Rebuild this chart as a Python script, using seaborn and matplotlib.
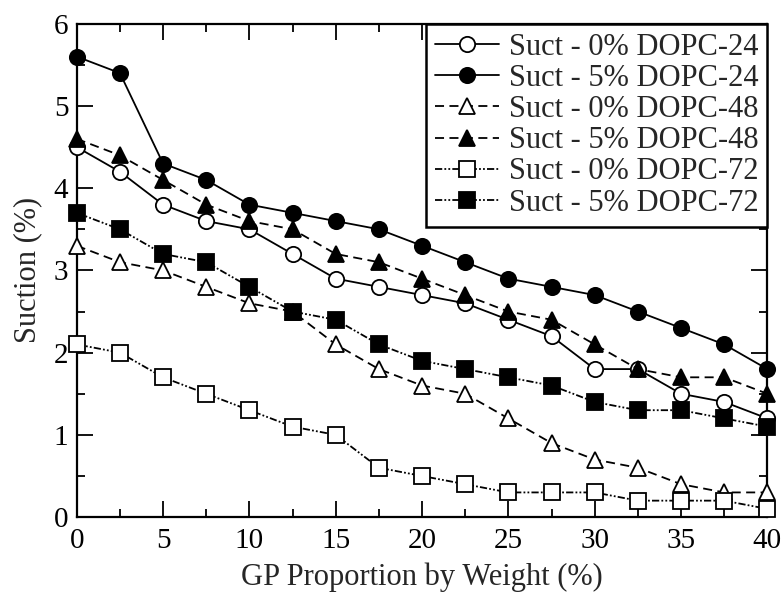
import numpy as np
import matplotlib.pyplot as plt
import seaborn as sns
from matplotlib.ticker import MultipleLocator

# GP proportion (%) on the x axis
gp = [0, 2.5, 5, 7.5, 10, 12.5, 15, 17.5, 20, 22.5, 25, 27.5, 30, 32.5, 35, 37.5, 40]

# Suction (%) for each series
suct0_24 = [4.5, 4.2, 3.8, 3.6, 3.5, 3.2, 2.9, 2.8, 2.7, 2.6, 2.4, 2.2, 1.8, 1.8, 1.5, 1.4, 1.2]
suct5_24 = [5.6, 5.4, 4.3, 4.1, 3.8, 3.7, 3.6, 3.5, 3.3, 3.1, 2.9, 2.8, 2.7, 2.5, 2.3, 2.1, 1.8]
suct0_48 = [3.3, 3.1, 3.0, 2.8, 2.6, 2.5, 2.1, 1.8, 1.6, 1.5, 1.2, 0.9, 0.7, 0.6, 0.4, 0.3, 0.3]
suct5_48 = [4.6, 4.4, 4.1, 3.8, 3.6, 3.5, 3.2, 3.1, 2.9, 2.7, 2.5, 2.4, 2.1, 1.8, 1.7, 1.7, 1.5]
suct0_72 = [2.1, 2.0, 1.7, 1.5, 1.3, 1.1, 1.0, 0.6, 0.5, 0.4, 0.3, 0.3, 0.3, 0.2, 0.2, 0.2, 0.1]
suct5_72 = [3.7, 3.5, 3.2, 3.1, 2.8, 2.5, 2.4, 2.1, 1.9, 1.8, 1.7, 1.6, 1.4, 1.3, 1.3, 1.2, 1.1]

labels = ["Suct - 0% DOPC-24", "Suct - 5% DOPC-24", "Suct - 0% DOPC-48",
          "Suct - 5% DOPC-48", "Suct - 0% DOPC-72", "Suct - 5% DOPC-72"]

sns.set_style("ticks")
plt.rcParams['font.family'] = ['Liberation Serif', 'DejaVu Serif']

fig = plt.figure(figsize=(7.83, 5.93), dpi=100)
ax = fig.add_axes([0.098, 0.128, 0.882, 0.832])

dashdotdot = (0, (4, 1.2, 1, 1.2, 1, 1.2))
styles = [
    (suct0_24, 'o', 'white', '-'),
    (suct5_24, 'o', 'black', '-'),
    (suct0_48, '^', 'white', (0, (5, 3))),
    (suct5_48, '^', 'black', (0, (5, 3))),
    (suct0_72, 's', 'white', dashdotdot),
    (suct5_72, 's', 'black', dashdotdot),
]

for (vals, mk, fc, ls), lab in zip(styles, labels):
    sns.lineplot(x=gp, y=vals, ax=ax, color='black', linewidth=1.3,
                 linestyle=ls, marker=mk, markersize=11 if mk != '^' else 12,
                 markerfacecolor=fc, markeredgecolor='black', markeredgewidth=1.3,
                 label=lab, clip_on=False, zorder=3)

ax.set_xlim(0, 40)
ax.set_ylim(0, 6)
ax.xaxis.set_major_locator(MultipleLocator(5))
ax.xaxis.set_minor_locator(MultipleLocator(2.5))
ax.yaxis.set_major_locator(MultipleLocator(1))
ax.yaxis.set_minor_locator(MultipleLocator(0.5))
ax.tick_params(which='both', direction='in', top=True, right=True, width=1.3,
               labelsize=21, colors='black')
ax.tick_params(axis='x', which='major', length=11.5, pad=8)
ax.tick_params(axis='y', which='major', length=11.5, pad=6)
ax.tick_params(which='minor', length=6)
for sp in ax.spines.values():
    sp.set_linewidth(1.6)
    sp.set_color('black')

ax.set_xlabel("GP Proportion by Weight (%)", fontsize=22, labelpad=6)
ax.set_ylabel("Suction (%)", fontsize=22, labelpad=8)

leg = ax.legend(loc='upper right', fontsize=22, frameon=True, fancybox=False,
                edgecolor='black', framealpha=1, borderaxespad=0,
                handlelength=2.1, handletextpad=0.3, labelspacing=0.07,
                borderpad=0.3)
leg.get_frame().set_linewidth(1.8)

fig.savefig("out.png", dpi=100)
